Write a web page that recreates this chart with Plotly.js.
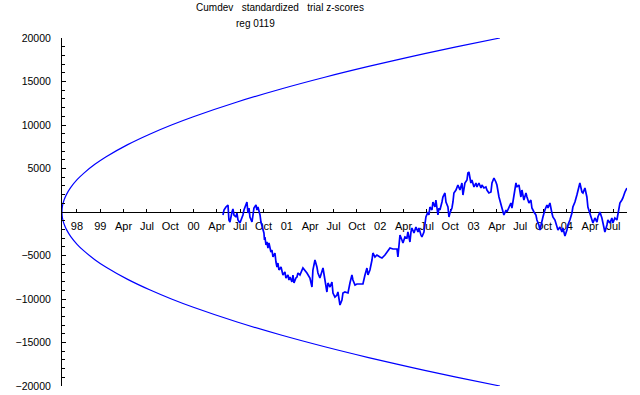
<!DOCTYPE html>
<html>
<head>
<meta charset="utf-8">
<script src="https://cdn.plot.ly/plotly-3.0.1.min.js"></script>
<style>html,body{margin:0;padding:0;background:#fff;}#chart{width:640px;height:395px;}</style>
</head>
<body>
<div id="chart"></div>
<script>
// Tick positions (decimal years) and labels
const tickYears = [1998.75,1999.0,1999.25,1999.5,1999.75,2000.0,2000.25,2000.5,2000.75,2001.0,2001.25,2001.5,2001.75,2002.0,2002.25,2002.5,2002.75,2003.0,2003.25,2003.5,2003.75,2004.0,2004.25,2004.5];
const tickLabels = ["98","99","Apr","Jul","Oct","00","Apr","Jul","Oct","01","Apr","Jul","Oct","02","Apr","Jul","Oct","03","Apr","Jul","Oct","04","Apr","Jul"];
const yTickVals = [-20000,-15000,-10000,-5000,5000,10000,15000,20000];
const yTickLabels = ["\u221220000","\u221215000","\u221210000","\u22125000","5000","10000","15000","20000"];

// Envelope
const envX = [1998.590,1998.592,1998.599,1998.613,1998.637,1998.684,1998.754,1998.825,1998.942,1999.059,1999.294,1999.529,1999.763,1999.998,2000.467,2000.937,2001.406,2001.875,2002.344,2002.814,2003.283];
const envUpper = [0,447,894,1414,2000,2828,3742,4472,5477,6325,7746,8944,10000,10954,12649,14142,15492,16733,17889,18974,20000];
const envLower = [0,-447,-894,-1414,-2000,-2828,-3742,-4472,-5477,-6325,-7746,-8944,-10000,-10954,-12649,-14142,-15492,-16733,-17889,-18974,-20000];

// Cumulative deviation
const walkX = [2000.315,2000.326,2000.347,2000.369,2000.379,2000.390,2000.412,2000.422,2000.433,2000.454,2000.465,2000.476,2000.497,2000.519,2000.529,2000.540,2000.562,2000.572,2000.583,2000.594,2000.604,2000.626,2000.637,2000.647,2000.669,2000.679,2000.690,2000.712,2000.722,2000.733,2000.754,2000.760,2000.765,2000.776,2000.787,2000.797,2000.808,2000.829,2000.840,2000.851,2000.872,2000.883,2000.894,2000.904,2000.915,2000.937,2000.947,2000.958,2000.979,2000.990,2001.012,2001.022,2001.033,2001.054,2001.065,2001.076,2001.097,2001.108,2001.119,2001.140,2001.172,2001.215,2001.247,2001.269,2001.279,2001.301,2001.322,2001.333,2001.354,2001.376,2001.387,2001.408,2001.429,2001.440,2001.462,2001.483,2001.494,2001.515,2001.537,2001.547,2001.569,2001.590,2001.601,2001.622,2001.644,2001.655,2001.676,2001.697,2001.708,2001.730,2001.751,2001.783,2001.815,2001.837,2001.858,2001.869,2001.890,2001.912,2001.922,2001.944,2001.965,2001.997,2002.019,2002.051,2002.083,2002.105,2002.137,2002.180,2002.190,2002.201,2002.212,2002.233,2002.244,2002.265,2002.287,2002.297,2002.319,2002.330,2002.340,2002.362,2002.383,2002.405,2002.415,2002.437,2002.447,2002.469,2002.480,2002.490,2002.512,2002.522,2002.533,2002.555,2002.565,2002.587,2002.597,2002.619,2002.630,2002.640,2002.662,2002.672,2002.694,2002.705,2002.726,2002.737,2002.747,2002.769,2002.780,2002.790,2002.812,2002.822,2002.833,2002.855,2002.876,2002.887,2002.908,2002.930,2002.940,2002.951,2002.972,2002.983,2003.005,2003.026,2003.037,2003.058,2003.080,2003.090,2003.112,2003.133,2003.144,2003.165,2003.187,2003.198,2003.219,2003.240,2003.251,2003.273,2003.294,2003.305,2003.326,2003.348,2003.358,2003.380,2003.401,2003.412,2003.433,2003.455,2003.465,2003.487,2003.508,2003.519,2003.540,2003.562,2003.573,2003.594,2003.615,2003.626,2003.648,2003.669,2003.680,2003.701,2003.712,2003.733,2003.744,2003.765,2003.787,2003.798,2003.819,2003.840,2003.851,2003.873,2003.894,2003.905,2003.926,2003.948,2003.958,2003.980,2004.001,2004.012,2004.033,2004.055,2004.065,2004.087,2004.108,2004.119,2004.140,2004.162,2004.173,2004.194,2004.215,2004.226,2004.248,2004.269,2004.280,2004.301,2004.323,2004.333,2004.355,2004.376,2004.387,2004.408,2004.430,2004.440,2004.462,2004.483,2004.494,2004.515,2004.537,2004.548,2004.569,2004.590,2004.601,2004.623,2004.644];
const walkY = [-345,230,575,805,-920,-1149,0,345,-345,-575,-115,-920,-1264,-690,-345,230,805,1149,-115,460,-575,-1149,-345,460,805,230,575,-345,-1149,-1724,-2414,-3218,-2874,-3793,-3448,-4138,-3563,-4598,-4368,-5172,-4713,-5747,-6322,-5862,-6667,-6322,-7011,-7241,-6896,-7586,-7241,-7816,-7471,-8046,-7241,-8161,-7586,-7471,-7011,-7241,-6437,-7011,-7586,-8621,-6667,-5517,-6322,-7011,-7586,-6896,-6437,-7816,-9195,-8161,-8621,-8046,-9310,-9770,-9540,-9195,-10690,-10115,-9310,-9195,-9310,-9310,-8161,-7241,-7816,-8391,-8276,-8276,-8276,-7241,-6437,-7241,-6667,-5517,-4713,-5172,-4943,-5172,-5287,-4943,-4368,-4138,-4253,-4253,-5172,-3218,-2644,-3218,-3563,-2874,-2988,-2299,-3448,-2299,-1839,-2414,-1724,-2299,-1839,-2644,-2874,-2299,-1264,-575,0,-345,575,230,1149,575,1379,-345,460,230,1149,1724,2184,1149,575,-575,-115,460,1149,2184,2529,2874,3103,2529,3333,1954,3333,3678,4483,4598,3333,3678,2874,3333,2874,3333,2759,3103,2759,2874,2529,2184,2299,3333,3908,3448,3103,1724,1034,460,-345,230,0,575,1034,460,2184,3333,2874,3103,1724,2529,1379,2184,1724,1034,1379,460,0,-345,-920,-1494,-2069,-920,-575,230,805,460,1034,-115,-575,-920,-1839,-2069,-1724,-2299,-1839,-2759,-2069,-1494,-920,-115,575,1149,1954,2529,3333,2299,2184,2759,1724,575,-115,-920,-1264,-690,-1149,-575,0,-690,-1264,-2299,-1494,-920,-1264,-690,-1264,-690,-920,-115,1034,1379,1609,2299,2759];

const blue = '#0000ff';
const fontFam = 'Liberation Sans, Arial, sans-serif';

const traces = [
  {x: envX, y: envUpper, type: 'scatter', mode: 'lines', line: {color: blue, width: 1.2, shape: 'spline'}, hoverinfo: 'skip'},
  {x: envX, y: envLower, type: 'scatter', mode: 'lines', line: {color: blue, width: 1.2, shape: 'spline'}, hoverinfo: 'skip'},
  {x: walkX, y: walkY, type: 'scatter', mode: 'lines', line: {color: blue, width: 1.7}, hoverinfo: 'skip'}
];

const layout = {
  width: 640, height: 395,
  margin: {l: 62, r: 13, t: 38, b: 9, pad: 0},
  paper_bgcolor: '#ffffff', plot_bgcolor: '#ffffff',
  showlegend: false,
  font: {family: fontFam, color: '#000', size: 10},
  title: {
    text: 'Cumdev\u00a0\u00a0 standardized\u00a0\u00a0 trial z-scores',
    font: {family: fontFam, size: 10, color: '#000'},
    x: 280/640, xref: 'container', xanchor: 'center',
    y: 1 - 7.5/395, yref: 'container', yanchor: 'middle'
  },
  annotations: [{
    text: 'reg 0119', xref: 'paper', yref: 'paper',
    x: (255-62)/565, y: 1 + (38-23.5)/348, xanchor: 'center', yanchor: 'middle',
    showarrow: false, font: {family: fontFam, size: 10, color: '#000'}
  }],
  xaxis: {
    range: [1998.59, 2004.645],
    anchor: 'free', position: 0.5,
    showline: true, linecolor: '#000', linewidth: 1,
    showgrid: false, zeroline: false,
    tickmode: 'array', tickvals: tickYears, ticktext: tickLabels,
    ticks: 'inside', ticklen: 3, tickwidth: 1, tickcolor: '#000',
    tickfont: {family: fontFam, size: 11, color: '#000'},
    ticklabelstandoff: 4,
    layer: 'below traces', fixedrange: true
  },
  yaxis: {
    range: [-20000, 20000],
    showline: true, linecolor: '#000', linewidth: 1,
    showgrid: false, zeroline: false,
    tickmode: 'array', tickvals: yTickVals, ticktext: yTickLabels,
    ticks: 'inside', ticklen: 4, tickwidth: 1, tickcolor: '#000',
    minor: {dtick: 1000, tick0: 0, ticks: 'inside', ticklen: 2.5, tickwidth: 1, tickcolor: '#000', showgrid: false},
    tickfont: {family: fontFam, size: 10.5, color: '#000'},
    ticklabelstandoff: 8,
    fixedrange: true
  }
};

Plotly.newPlot('chart', traces, layout, {staticPlot: true, displayModeBar: false});
</script>
</body>
</html>
